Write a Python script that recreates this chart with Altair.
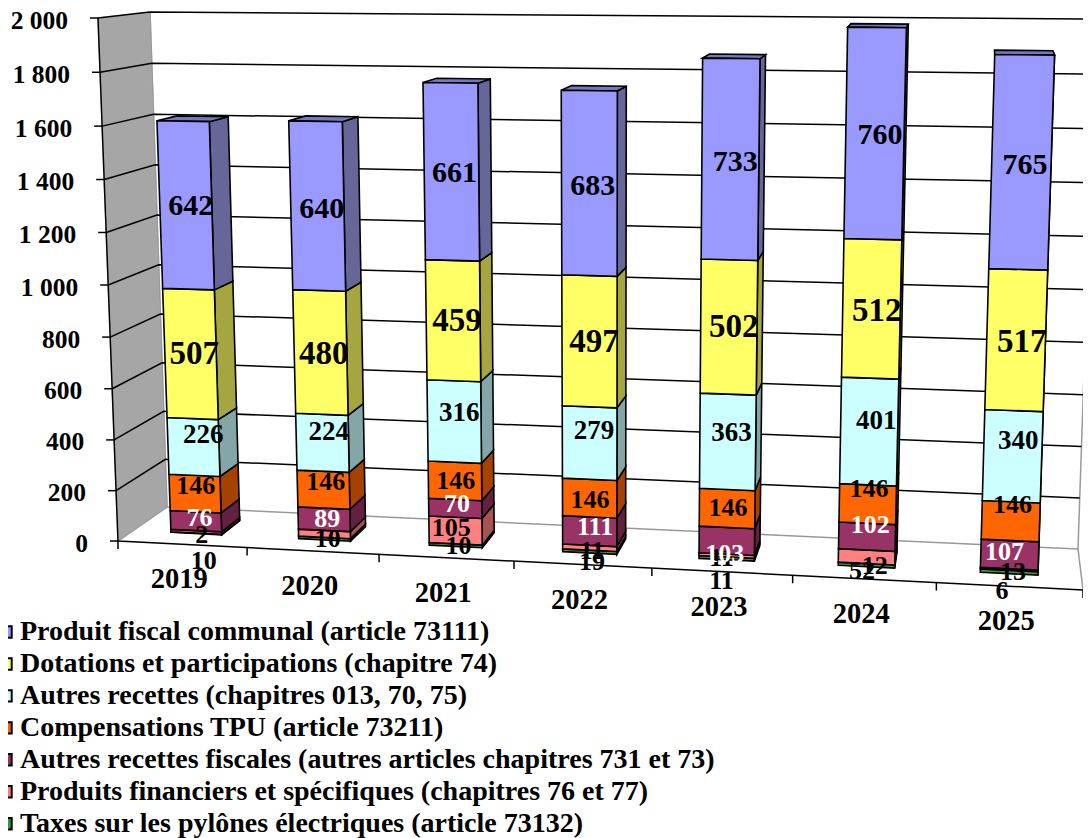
import altair as alt
import pandas as pd

YEARS = ["2019", "2020", "2021", "2022", "2023", "2024", "2025"]
SERIES = [
    "Produit fiscal communal (article 73111)",
    "Dotations et participations (chapitre 74)",
    "Autres recettes (chapitres 013, 70, 75)",
    "Compensations TPU (article 73211)",
    "Autres recettes fiscales (autres articles chapitres 731 et 73)",
    "Produits financiers et spécifiques (chapitres 76 et 77)",
    "Taxes sur les pylônes électriques (article 73132)",
]
COLORS = ["#9999FF", "#FFFF66", "#CCFFFF", "#FF6600", "#993366", "#FF8080", "#339933"]
SIDES = ["#666699", "#A6A640", "#85A6A6", "#A64200", "#632142", "#A65353", "#216321"]
produit = [642, 640, 661, 683, 733, 760, 765]
dotations = [507, 480, 459, 497, 502, 512, 517]
autres = [226, 224, 316, 279, 363, 401, 340]
tpu = [146, 146, 146, 146, 146, 146, 146]
fiscales = [76, 89, 70, 111, 103, 102, 107]
financiers = [10, 28, 105, 19, 11, 52, 6]
pylones = [2, 10, 10, 11, 11, 12, 13]
VALUES = [produit, dotations, autres, tpu, fiscales, financiers, pylones]
TICKS = [0, 200, 400, 600, 800, 1000, 1200, 1400, 1600, 1800, 2000]
TICK_TEXT = ["0", "200", "400", "600", "800", "1 000", "1 200", "1 400", "1 600", "1 800", "2 000"]

# perspective box: (along, height, depth) corners on the page
BOX = {(0, 0, 0): (118, 541), (1, 0, 0): (1083, 590), (0, 1, 0): (98, 18), (1, 1, 0): (1103, 28),
       (0, 0, 1): (167, 507), (1, 0, 1): (1078, 549), (0, 1, 1): (150, 12), (1, 1, 1): (1096, 19)}
BAR_W, D0, D1 = 0.40, 0.31, 0.72
LABEL_SIZES = [30, 33, 27, 26, 26, 26, 26]
# label shifts, one row per year, one pair per series, as Excel placed them
NUDGE = [
    [(-4, 3), (-5, 5), (1, -6), (-8, -1), (-5, 3), (-1, 36), (-3, 8)],
    [(-3, 6), (-4, 6), (-1, -5), (-5, -1), (-4, 6), (-4, 7), (-4, 7)],
    [(-3, 4), (-2, 5), (-1, -3), (-5, 6), (-4, 2), (-10, 4), (-3, 8)],
    [(-1, 5), (0, 5), (0, -6), (-4, 8), (1, 3), (-2, 21), (-2, 6)],
    [(2, 5), (2, 4), (1, -3), (-2, 6), (-5, 20), (-8, 33), (-8, 7)],
    [(4, 4), (4, 7), (6, -5), (0, -8), (2, -4), (-6, 22), (7, 8)],
    [(4, 5), (6, 7), (6, -9), (2, -9), (-5, 5), (-7, 29), (4, 8)],
]


def S(u):
    r = u / 7
    return r * (0.9257 + 0.0743 * r)


def T(v):
    return (0.2505 * v + 5.5e-6 * v * v) / 523


def P(u, v, d):
    s, t = S(u), T(v)
    x = y = 0
    for (a, b, c), (px, py) in BOX.items():
        w = (s if a else 1 - s) * (t if b else 1 - t) * (d if c else 1 - d)
        x += w * px
        y += w * py
    return x, y


X = alt.X("x:Q", scale=alt.Scale(domain=[8, 1083], nice=False, zero=False), axis=None)
Y = alt.Y("y:Q", scale=alt.Scale(domain=[838, 8], nice=False, zero=False), axis=None)


def rows(pid, pts, **kw):
    return [dict(poly=pid, pt=i, x=p[0], y=p[1], **kw) for i, p in enumerate(pts)]


# walls
wall = rows("left", [P(0, 0, 0), P(0, 2000, 0), P(0, 2000, 1), P(0, 0, 1)])
wall_c = alt.Chart(pd.DataFrame(wall)).mark_line(interpolate="linear-closed", stroke="#BFBFBF", strokeWidth=1.5, fill="#A6A6A6", filled=True).encode(X, Y, detail="poly:N", order="pt:Q")
edge = rows("r", [P(0, 0, 1), P(7, 0, 1), P(7, 2000, 1)]) + rows("l", [P(0, 2000, 1), P(0, 0, 1), P(0, 0, 0)]) + rows("c", [P(7, 0, 1), P(7, 0, 0)])
edge_c = alt.Chart(pd.DataFrame(edge)).mark_line(stroke="#999999", strokeWidth=1.5).encode(X, Y, detail="poly:N", order="pt:Q")
grid = []
for v in TICKS[1:]:
    grid += rows(f"g{v}", [P(0, v, 0), P(0, v, 1), P(7, v, 1)])
grid_c = alt.Chart(pd.DataFrame(grid)).mark_line(stroke="#000000", strokeWidth=1.5).encode(X, Y, detail="poly:N", order="pt:Q")
axes = rows("ya", [P(0, 2000, 0), P(0, 0, 0), P(7, 0, 0)])
for v in TICKS:
    a = P(0, v, 0)
    axes += rows(f"t{v}", [a, (a[0] - 8, a[1])])
for i in range(8):
    a = P(i, 0, 0)
    axes += rows(f"u{i}", [a, (a[0], a[1] + 8)])
axes_c = alt.Chart(pd.DataFrame(axes)).mark_line(stroke="#000000", strokeWidth=1.5).encode(X, Y, detail="poly:N", order="pt:Q")

# bars
side, front, top, labels = [], [], [], []
for i, yr in enumerate(YEARS):
    base = 0
    ul, ur, um = i + 0.5 - BAR_W / 2, i + 0.5 + BAR_W / 2, i + 0.5
    for k in range(6, -1, -1):
        val = VALUES[k][i]
        a, b = base, base + val
        side += rows(f"s{i}{k}", [P(ur, a, D0), P(ur, a, D1), P(ur, b, D1), P(ur, b, D0)], fill=SIDES[k])
        front += rows(f"f{i}{k}", [P(ul, a, D0), P(ur, a, D0), P(ur, b, D0), P(ul, b, D0)], series=SERIES[k])
        lx, ly = P(um, (a + b) / 2, 0.5)
        dx, dy = NUDGE[i][k]
        if not (i == 1 and k == 5):  # the reference shows a single "10" under the 2020 bar
            labels.append(dict(x=lx + dx, y=ly + dy, text=str(val), size=LABEL_SIZES[k],
                               color="#FFFFFF" if k == 4 else "#000000"))
        base = b
    top += rows(f"t{i}", [P(ul, base, D0), P(ur, base, D0), P(ur, base, D1), P(ul, base, D1)], fill="#7777BB")

line = dict(interpolate="linear-closed", stroke="#000000", strokeWidth=1.6, filled=True)
side_c = alt.Chart(pd.DataFrame(side + top)).mark_line(**line).encode(
    X, Y, detail="poly:N", order="pt:Q", fill=alt.Fill("fill:N", scale=None))
front_c = alt.Chart(pd.DataFrame(front)).mark_line(**line).encode(
    X, Y, detail="poly:N", order="pt:Q",
    fill=alt.Fill("series:N", scale=alt.Scale(domain=SERIES, range=COLORS), sort=SERIES,
                  legend=alt.Legend(orient="none", legendX=-16, legendY=610, title=None, symbolType="square",
                                    symbolSize=130, symbolStrokeColor="#000000", symbolStrokeWidth=2,
                                    labelFont="Liberation Serif", labelFontSize=28, labelFontWeight="bold",
                                    labelColor="#000000", labelLimit=0, rowPadding=3.95, labelOffset=0)))

FONT = dict(font="Liberation Serif", fontWeight="bold")
lab_c = alt.Chart(pd.DataFrame(labels)).mark_text(align="center", baseline="middle", **FONT).encode(
    X, Y, text="text:N", size=alt.Size("size:Q", scale=None), color=alt.Color("color:N", scale=None))
ticks = pd.DataFrame([dict(x=P(0, v, 0)[0] - 30, y=P(0, v, 0)[1] + 2.5, text=t) for v, t in zip(TICKS, TICK_TEXT)])
ticks_c = alt.Chart(ticks).mark_text(align="right", baseline="middle", fontSize=25.5, **FONT).encode(X, Y, text="text:N")
years = pd.DataFrame([dict(x=P(i + 0.5, 0, 0)[0] - 3, y=P(i + 0.5, 0, 0)[1] + 35, text=yr) for i, yr in enumerate(YEARS)])
years_c = alt.Chart(years).mark_text(align="center", baseline="middle", fontSize=28.5, **FONT).encode(X, Y, text="text:N")

chart = alt.layer(wall_c, edge_c, grid_c, axes_c, side_c, front_c, ticks_c, years_c, lab_c).resolve_scale(
    fill="independent", color="independent", size="independent"
).properties(width=1075, height=830, autosize=alt.AutoSizeParams(type="none"), padding=0
).configure_view(stroke=None)
chart.save("out.html", embed_options={"renderer": "svg", "actions": False})
